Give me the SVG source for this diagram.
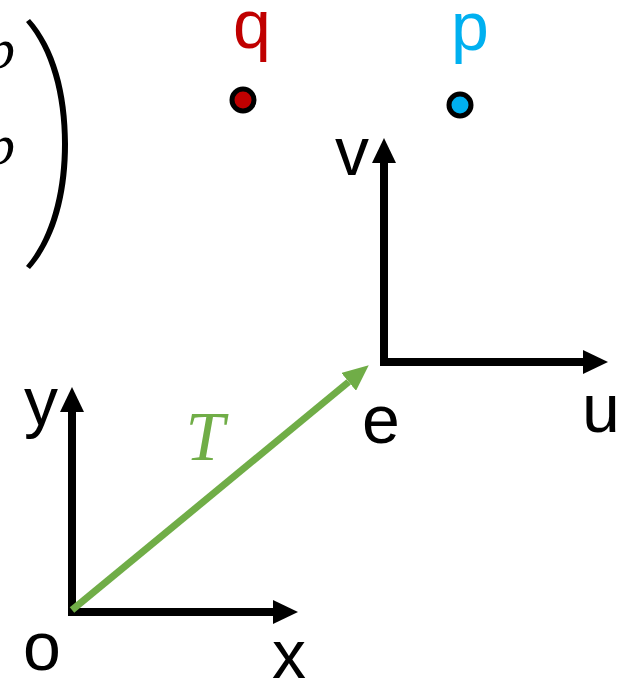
<svg xmlns="http://www.w3.org/2000/svg" width="637" height="682" viewBox="0 0 637 682">
<style>
.lbl{font-family:"Liberation Sans",Arial,sans-serif;font-size:68px;text-anchor:middle;fill:#000}
.ax{fill:none;stroke:#000;stroke-width:8;stroke-linejoin:miter}
.math{font-family:"Liberation Serif","Times New Roman",serif;font-style:italic}
</style>
<defs>
<marker id="ah" markerUnits="userSpaceOnUse" markerWidth="25" markerHeight="24" refX="0" refY="12" orient="auto-start-reverse" viewBox="0 0 25 24">
<path d="M0,0 L25,12 L0,24 Z" fill="#000"/>
</marker>
<marker id="gh" markerUnits="userSpaceOnUse" markerWidth="26" markerHeight="23" refX="0" refY="11.5" orient="auto" viewBox="0 0 26 23">
<path d="M0,0 L26,11.5 L0,23 Z" fill="#70AD47"/>
</marker>
</defs>
<g id="matrix">
<text class="math" x="-14" y="68" font-size="58">p</text>
<text class="math" x="-14" y="164" font-size="58">p</text>
<path d="M26,22 C50,50 62,95 62,144 C62,193 50,238 26,266 L30,269 C56,240 68,195 68,144 C68,93 56,48 30,19 Z" fill="#000"/>
</g>
<g id="q">
<text class="lbl" x="252" y="48" style="fill:#C00000">q</text>
<circle cx="243" cy="100" r="11" fill="#C00000" stroke="#000" stroke-width="5"/>
</g>
<g id="p">
<text class="lbl" x="470" y="50" style="fill:#00B0F0">p</text>
<circle cx="460" cy="105" r="11" fill="#00B0F0" stroke="#000" stroke-width="5"/>
</g>
<g id="connectors">
<path class="ax" d="M384,163 L384,362 L583,362" marker-start="url(#ah)" marker-end="url(#ah)"/>
<path class="ax" d="M72,412 L72,612 L273,612" marker-start="url(#ah)" marker-end="url(#ah)"/>
<line x1="72" y1="610" x2="348.7" y2="381.9" stroke="#70AD47" stroke-width="7" marker-end="url(#gh)"/>
</g>
<g id="frame-e">
<text class="lbl" x="352" y="175">v</text>
<text class="lbl" x="601" y="432">u</text>
<text class="lbl" x="381" y="443">e</text>
</g>
<g id="frame-o">
<text class="lbl" x="41" y="425">y</text>
<text class="lbl" x="289" y="678">x</text>
<text class="lbl" x="42" y="670">o</text>
</g>
<g id="T">
<text class="math" x="205" y="460" font-size="70" text-anchor="middle" fill="#70AD47">T</text>
</g>
</svg>
